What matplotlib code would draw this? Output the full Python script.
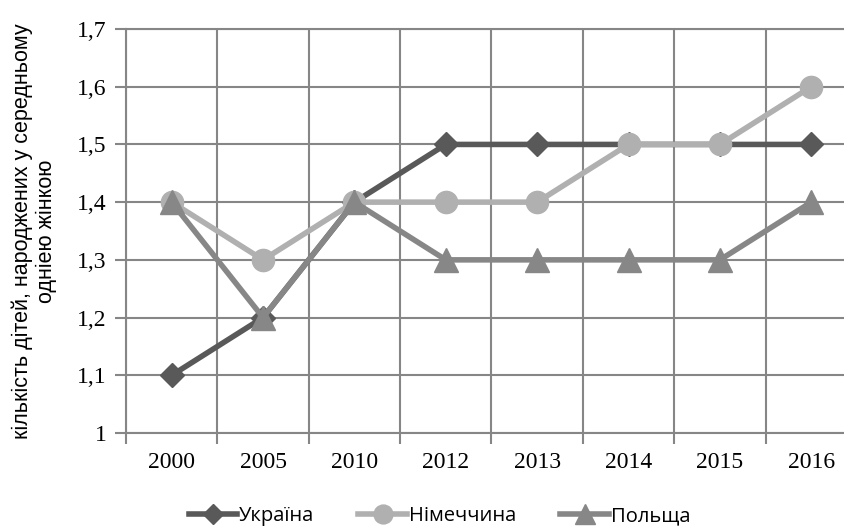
import numpy as np
import matplotlib.pyplot as plt
from matplotlib import font_manager

# дані з графіка
years = ['2000', '2005', '2010', '2012', '2013', '2014', '2015', '2016']
ukraine = [1.1, 1.2, 1.4, 1.5, 1.5, 1.5, 1.5, 1.5]
germany = [1.4, 1.3, 1.4, 1.4, 1.4, 1.5, 1.5, 1.6]
poland = [1.4, 1.2, 1.4, 1.3, 1.3, 1.3, 1.3, 1.4]
y_ticks = [1.0, 1.1, 1.2, 1.3, 1.4, 1.5, 1.6, 1.7]
y_labels = ['1', '1,1', '1,2', '1,3', '1,4', '1,5', '1,6', '1,7']

# підписи осей - шрифт із засічками, як у Times
plt.rcParams['font.family'] = ['Liberation Serif', 'Tinos', 'DejaVu Serif']
plt.rcParams['font.size'] = 17

grid_c = '#868686'

fig = plt.figure(figsize=(8.45, 5.26), dpi=100)
# права межа області графіка виходить за край картинки, як в оригіналі
ax = fig.add_axes([126 / 845, 1 - 433 / 526, 731 / 845, 404 / 526])

x = np.arange(len(years))
ax.plot(x, ukraine, color='#595959', lw=4, marker='D', ms=12.5, label='Україна', zorder=3)
ax.plot(x, germany, color='#b0b0b0', lw=4, marker='o', ms=16, label='Німеччина', zorder=4)
ax.plot(x, poland, color='#878787', lw=4, marker='^', ms=17, label='Польща', zorder=5)

ax.set_xlim(-0.5, len(years) - 0.5)
ax.set_ylim(1.0, 1.7)

ax.set_xticks(x)
ax.set_xticklabels(years)
ax.set_xticks(np.arange(-0.5, len(years), 1), minor=True)
ax.tick_params(axis='x', which='major', length=0, pad=14, labelsize=17)
ax.tick_params(axis='x', which='minor', length=8, width=1.5, color=grid_c)

ax.set_yticks(y_ticks)
ax.set_yticklabels(y_labels)
ax.tick_params(axis='y', length=8, width=1.5, color=grid_c, pad=6, labelsize=17)

ax.grid(True, axis='y', which='major', color=grid_c, lw=1.5)
ax.grid(True, axis='x', which='minor', color=grid_c, lw=1.5)
ax.set_axisbelow(True)
for s in ax.spines.values():
    s.set_color(grid_c)
    s.set_linewidth(1.5)

ax.set_ylabel('кількість дітей, народжених у середньому\nодніею жінкою',
              family=['Liberation Sans', 'Arimo', 'DejaVu Sans'], fontsize=15.5,
              labelpad=14, linespacing=1.2)

fig.legend(loc='lower center', bbox_to_anchor=(0.52, -0.035), ncol=3, frameon=False,
           prop={'family': ['Open Sans', 'Noto Sans', 'DejaVu Sans'], 'size': 14.5},
           handlelength=2.4, handletextpad=0.1, columnspacing=2.2, markerscale=0.85)

fig.savefig('out.png', dpi=100)
